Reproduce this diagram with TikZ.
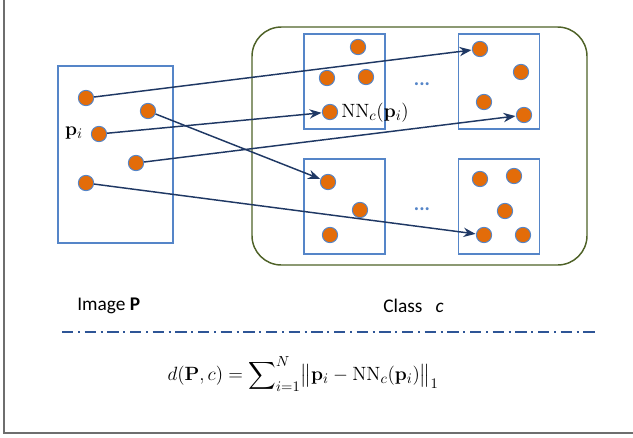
\documentclass[tikz,border=0pt]{standalone}
\usepackage{amsmath}
\usepackage[no-math]{fontspec}
\setmainfont{Carlito}
\usetikzlibrary{arrows.meta}
\definecolor{dotorange}{HTML}{E36C09}
\definecolor{boxblue}{HTML}{5585C8}
\definecolor{arrnavy}{HTML}{1F3864}
\definecolor{classgreen}{HTML}{4F6228}
\definecolor{dashnavy}{HTML}{2E5596}
\definecolor{framegray}{HTML}{6E6E6E}
\tikzset{
  pt/.style={circle, inner sep=0pt, minimum size=11.5pt, fill=dotorange, draw=boxblue, line width=0.7pt},
  imgbox/.style={draw=boxblue, line width=1pt, inner sep=0pt},
  arr/.style={draw=arrnavy, line width=1.1pt, -{Stealth[length=9pt,width=7pt]}, shorten >=0.3pt},
  lbl/.style={inner sep=0pt, font=\fontsize{11.5}{13}\selectfont},
}
\begin{document}
\begin{tikzpicture}[x=0.75pt,y=-0.75pt]
\useasboundingbox (0,0) rectangle (633,437);
% outer frame (left and bottom)
\draw[framegray, line width=1.3pt] (4,0) -- (4,433) -- (633,433);

% image box
\node[imgbox, minimum width=86.25pt, minimum height=132.75pt] (imgP) at (115.5,154.5) {};
% class box
\node[draw=classgreen, line width=1.1pt, rounded corners=22pt, minimum width=251.25pt, minimum height=178.5pt, inner sep=0pt] (cls) at (419.5,146) {};
% member boxes
\node[imgbox, minimum width=60.75pt, minimum height=71.25pt] (tl) at (344.5,81.5) {};
\node[imgbox, minimum width=60.75pt, minimum height=71.25pt] (tr) at (499,81.5) {};
\node[imgbox, minimum width=60.75pt, minimum height=71.25pt] (bl) at (344.5,206.5) {};
\node[imgbox, minimum width=60.75pt, minimum height=71.25pt] (br) at (499,206.5) {};

% dots in image P
\node[pt] (p1) at (86,98) {};
\node[pt] (p2) at (148,111) {};
\node[pt] (p3) at (99,134) {};
\node[pt] (p4) at (136,163) {};
\node[pt] (p5) at (86,183) {};
\node[lbl, anchor=east] (pil) at (83,133) {\fontsize{15}{17}\selectfont$\mathbf{p}_i$};

% TL dots
\node[pt] (a1) at (358,47) {};
\node[pt] (a2) at (327,78) {};
\node[pt] (a3) at (366,77) {};
\node[pt] (a4) at (330,112) {};
% TR dots
\node[pt] (b1) at (480,49) {};
\node[pt] (b2) at (521,72) {};
\node[pt] (b3) at (484,102) {};
\node[pt] (b4) at (524,115) {};
% BL dots
\node[pt] (c1) at (328,182) {};
\node[pt] (c2) at (360,210) {};
\node[pt] (c3) at (330,235) {};
% BR dots
\node[pt] (d1) at (480,179) {};
\node[pt] (d2) at (514,176) {};
\node[pt] (d3) at (505,211) {};
\node[pt] (d4) at (484,235) {};
\node[pt] (d5) at (523,235) {};

% ellipses
\node[text=boxblue, inner sep=0pt, font=\fontsize{15}{17}\selectfont\bfseries] (e1) at (422,84) {...};
\node[text=boxblue, inner sep=0pt, font=\fontsize{15}{17}\selectfont\bfseries] (e2) at (422,209) {...};

% NN label
\node[anchor=west, inner sep=0pt] (nnl) at (341,113) {\fontsize{15}{17}\selectfont$\mathrm{NN}_c(\mathbf{p}_i)$};

% arrows
\draw[arr] (p1) -- (b1);
\draw[arr] (p2) -- (c1);
\draw[arr] (p3) -- (a4);
\draw[arr] (p4) -- (b4);
\draw[arr] (p5) -- (d4);

% labels
\node[anchor=west, inner sep=0pt, font=\fontsize{14.5}{17}\selectfont] (imgl) at (77,306) {Image \textbf{P}};
\node[anchor=west, inner sep=0pt, font=\fontsize{14.5}{17}\selectfont] (clsl) at (383,306) {Class\ \ \ \textit{c}};

% dash-dot separator
\coordinate (dl) at (62,332);
\coordinate (dr) at (598,332);
\draw[dashnavy, line width=1.5pt, dash pattern=on 8.5pt off 3.5pt on 1.5pt off 3.5pt] (dl) -- (dr);

% formula
\node[inner sep=0pt] (form) at (303,374) {\fontsize{15}{18}\selectfont$\displaystyle d(\mathbf{P},c)=\sum\nolimits_{i=1}^{N}\bigl\|\mathbf{p}_i-\mathrm{NN}_c(\mathbf{p}_i)\bigr\|_1$};
\end{tikzpicture}
\end{document}
